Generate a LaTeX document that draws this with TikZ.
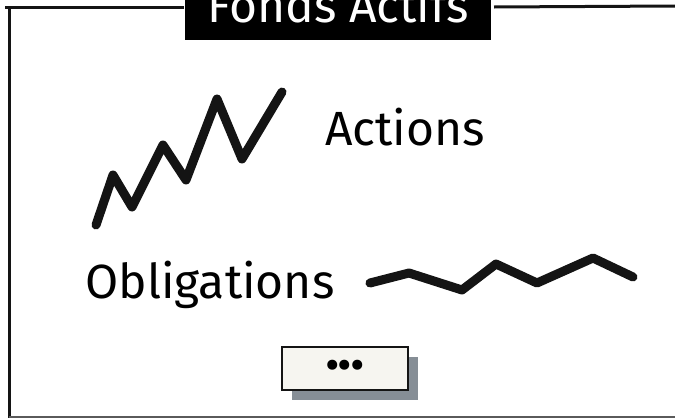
\documentclass[tikz,border=0pt]{standalone}
\usepackage{fontspec}
\setmainfont{Fira Sans}
\usepackage{xcolor}
\usetikzlibrary{positioning,shadows}
\definecolor{cLine}{RGB}{20,20,20}
\definecolor{cBtn}{RGB}{246,245,240}
\definecolor{cShadow}{RGB}{134,142,150}
\definecolor{cBase}{RGB}{90,90,90}

\begin{document}
\begin{tikzpicture}[x=1pt,y=-1pt]
  \useasboundingbox (0,0) rectangle (675,418);
  \tikzset{
    lbl/.style={font=\fontsize{48}{54}\selectfont,anchor=base,inner sep=0pt},
    trend/.style={cLine,line width=9pt,line cap=round,line join=round}
  }
  % frame
  \draw[cLine,line width=3pt] (184,7) -- (5,7);
  \draw[cLine,line width=3pt] (494,7) -- (675,6);
  \draw[cLine,line width=3pt] (9,9) -- (9,418);
  \draw[cBase,line width=1.5pt] (9,417) -- (675,417);
  \node[fill=black,text=white,font=\fontsize{48}{54}\selectfont,
        minimum width=306pt,minimum height=72pt] (title) at (338,4) {Fonds Actifs};
  % labels
  \node[lbl] (actions) at (405,145) {Actions};
  \node[lbl] (oblig) at (210,298) {Obligations};
  % curves
  \draw[trend] (96,225) -- (113,175) -- (132,207) -- (163,145) -- (186,180)
    -- (217,99) -- (242,159) -- (282,92);
  \draw[trend] (370,283) -- (409,273) -- (462,290) -- (496,264) -- (537,283)
    -- (593,258) -- (633,277);
  % button
  \node[draw=cLine,line width=2.5pt,fill=cBtn,minimum width=126pt,minimum height=43pt,
        drop shadow={shadow xshift=10pt,shadow yshift=-10pt,fill=cShadow,opacity=1},
        font=\fontsize{36}{38}\bfseries] (more) at (345,368.5)
        {\textbullet\textbullet\textbullet};
\end{tikzpicture}
\end{document}
